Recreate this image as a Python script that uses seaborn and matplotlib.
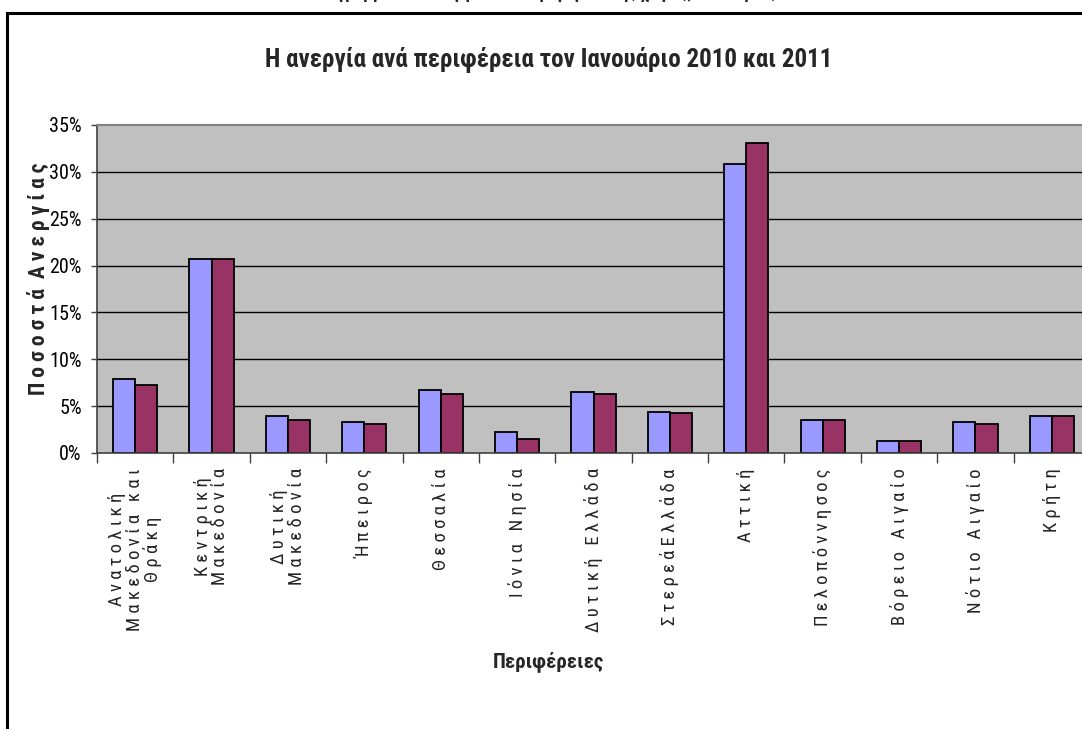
import matplotlib
matplotlib.use("Agg")
import matplotlib.pyplot as plt
import seaborn as sns
import pandas as pd
from matplotlib.patches import Rectangle
from matplotlib.ticker import FuncFormatter, FixedLocator
from matplotlib import font_manager as fm
from matplotlib.ft2font import FT2Font

# ---- data ----
regions = ["Ανατολική Μακεδονία και Θράκη", "Κεντρική Μακεδονία", "Δυτική Μακεδονία",
           "Ήπειρος", "Θεσσαλία", "Ιόνια Νησία", "Δυτική Ελλάδα", "ΣτερεάΕλλάδα",
           "Αττική", "Πελοπόννησος", "Βόρειο Αιγαίο", "Νότιο Αιγαίο", "Κρήτη"]
tick_lines = [["Ανατολική", "Μακεδονία και", "Θράκη"], ["Κεντρική", "Μακεδονία"],
              ["Δυτική", "Μακεδονία"], ["Ήπειρος"], ["Θεσσαλία"], ["Ιόνια Νησία"],
              ["Δυτική Ελλάδα"], ["ΣτερεάΕλλάδα"], ["Αττική"], ["Πελοπόννησος"],
              ["Βόρειο Αιγαίο"], ["Νότιο Αιγαίο"], ["Κρήτη"]]
years = ["2010", "2011"]
v2010 = [7.9, 20.7, 4.0, 3.3, 6.7, 2.2, 6.5, 4.4, 30.8, 3.5, 1.25, 3.3, 4.0]
v2011 = [7.25, 20.7, 3.5, 3.1, 6.3, 1.5, 6.3, 4.3, 33.1, 3.5, 1.25, 3.1, 4.0]
y_ticks = [0, 5, 10, 15, 20, 25, 30, 35]

title = "Η ανεργία ανά περιφέρεια τον Ιανουάριο 2010 και 2011"
xlabel = "Περιφέρειες"
ylabel = "Ποσοστά Ανεργίας"
top_cut = "Διάγραμμα 1: Η ανεργία ανά περιφέρεια της χώρας, Ιανουάριος 2010-2011"

df = pd.DataFrame({
    "region": regions * 2,
    "year": [years[0]] * len(regions) + [years[1]] * len(regions),
    "value": v2010 + v2011,
})

sns.set_theme(style="white")


def pick_narrow():
    prefs = ["Liberation Sans Narrow", "Arimo Narrow", "Roboto Condensed", "Fira Sans Condensed",
             "Open Sans Condensed", "Noto Sans Condensed", "PT Sans Narrow",
             "Ubuntu Condensed", "Fira Sans Extra Condensed"]
    by_name = {}
    for f in fm.fontManager.ttflist:
        by_name.setdefault(f.name, []).append(f.fname)
    for name in prefs:
        for path in by_name.get(name, []):
            try:
                cm = FT2Font(path).get_charmap()
                if 0x03AE in cm and 0x03A0 in cm:
                    return name
            except Exception:
                pass
    return "DejaVu Sans"


NARROW = [pick_narrow(), "DejaVu Sans"]
plt.rcParams["font.family"] = NARROW


def spaced(s, gap=" ", wgap="   "):
    return wgap.join(gap.join(list(w)) for w in s.split(" "))


W, H = 1082, 729
fig = plt.figure(figsize=(W / 100, H / 100), dpi=100)
fig.patch.set_facecolor("white")

left, right, top, bottom = 97, 1090, 125, 453
ax = fig.add_axes([left / W, 1 - bottom / H, (right - left) / W, (bottom - top) / H])
ax.set_facecolor("#C0C0C0")

sns.barplot(data=df, x="region", y="value", hue="year", order=regions, hue_order=years,
            palette=["#9999FF", "#993366"], width=0.58, edgecolor="black", linewidth=1.3,
            saturation=1, ax=ax, legend=False)

ax.set_ylim(0, 35)
ax.set_xlim(-0.5, len(regions) - 0.5)
for y in y_ticks[1:-1]:
    ax.axhline(y, color="black", lw=1.0, zorder=0.5)
ax.set_axisbelow(True)

ax.yaxis.set_major_locator(FixedLocator(y_ticks))
ax.yaxis.set_major_formatter(FuncFormatter(lambda v, p: f"{v:.0f}%"))
ax.tick_params(axis="y", which="major", left=True, length=4, width=1, color="#404040",
               pad=7, labelsize=14.5, labelcolor="black")

ax.set_xticks(range(len(regions)))
ax.set_xticklabels(["\n".join(spaced(l) for l in lines) for lines in tick_lines],
                   rotation=90, ha="center", va="top", multialignment="center",
                   fontsize=13.5, linespacing=0.95)
ax.tick_params(axis="x", which="major", length=0, pad=11)
ax.set_xticks([i + 0.5 for i in range(-1, len(regions))], minor=True)
ax.tick_params(axis="x", which="minor", bottom=True, length=7, width=1, color="#404040")

for side in ["left", "bottom"]:
    ax.spines[side].set_color("#404040")
    ax.spines[side].set_linewidth(1.2)
ax.spines["top"].set_color("#808080")
ax.spines["top"].set_linewidth(1.5)
ax.spines["right"].set_visible(False)

ax.set_xlabel("")
ax.set_ylabel("")
fig.text(39 / W, 1 - 279 / H, spaced(ylabel, wgap="  "), rotation=90, ha="center",
         va="center", fontsize=15.5, fontweight="bold")
fig.text(548 / W, 1 - 662 / H, xlabel, ha="center", va="center", fontsize=15,
         fontweight="bold")
fig.text(549 / W, 1 - 59 / H, title, ha="center", va="center", fontsize=18,
         fontweight="bold")
fig.text(585 / W, 1 + 2.5 / H, top_cut, ha="center", va="baseline", fontsize=13,
         fontweight="bold")

fig.patches.append(Rectangle((7 / W, -0.1), 2, 1 - 13 / H + 0.1, transform=fig.transFigure,
                             fill=False, edgecolor="black", linewidth=2.2))

fig.savefig("out.png", dpi=100, facecolor="white")
